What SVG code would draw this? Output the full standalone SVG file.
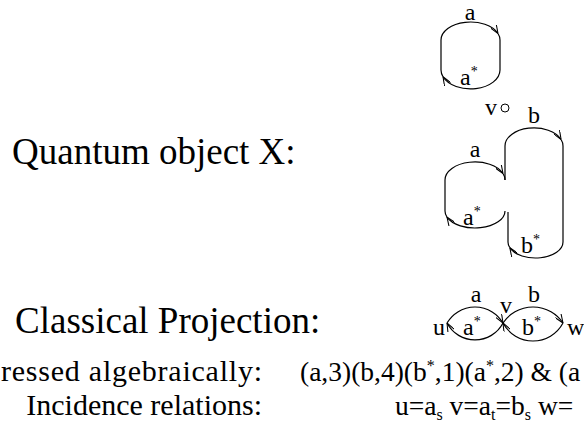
<svg xmlns="http://www.w3.org/2000/svg" width="584" height="426" viewBox="0 0 584 426">
<style>
text{font-family:Liberation Serif,Tinos,Times New Roman,Times,serif;fill:#000}
.big{font-size:37px}
.mid{font-size:30px}
.rt{font-size:27.5px}
.lbl{font-size:24px}
.sup{font-size:14px}
.sup2{font-size:16px}
.sub{font-size:16px}
.e{fill:none;stroke:#000;stroke-width:1.2}
.ea{fill:none;stroke:#000;stroke-width:1.2;marker-end:url(#arr)}
</style>
<defs>
<marker id="arr" viewBox="0 0 10 8" refX="10" refY="4" markerWidth="9" markerHeight="7" markerUnits="userSpaceOnUse" orient="auto">
<path d="M0,0 L10,4 L0,8" fill="none" stroke="#000" stroke-width="1.2"/>
</marker>
</defs>
<rect width="584" height="426" fill="#fff"/>
<g id="titles">
<text class="big" x="12" y="164">Quantum object X:</text>
<text class="big" x="15" y="333">Classical Projection:</text>
<text class="mid" x="1" y="381" textLength="261" lengthAdjust="spacing">ressed algebraically:</text>
<text class="mid" x="262" y="415" text-anchor="end">Incidence relations:</text>
<text class="rt" x="300" y="381">(a,3)(b,4)(b<tspan class="sup2" dy="-10">*</tspan><tspan dy="10">,1)(a</tspan><tspan class="sup2" dy="-10">*</tspan><tspan dy="10">,2) &amp; (a</tspan></text>
<text class="rt" x="395" y="415">u=a<tspan class="sub" dy="5">s</tspan><tspan dy="-5"> v=a</tspan><tspan class="sub" dy="5">t</tspan><tspan dy="-5">=b</tspan><tspan class="sub" dy="5">s</tspan><tspan dy="-5"> w=</tspan></text>
</g>
<g id="labels">
<text class="lbl" x="470" y="20" text-anchor="middle">a</text>
<text class="lbl" x="460" y="85">a<tspan class="sup" dy="-9">*</tspan></text>
<text class="lbl" x="485" y="115">v</text>
<circle cx="505" cy="108" r="4" fill="none" stroke="#000" stroke-width="1"/>
<text class="lbl" x="534" y="123" text-anchor="middle">b</text>
<text class="lbl" x="475" y="157" text-anchor="middle">a</text>
<text class="lbl" x="463" y="225">a<tspan class="sup" dy="-9">*</tspan></text>
<text class="lbl" x="521" y="253">b<tspan class="sup" dy="-9">*</tspan></text>
<text class="lbl" x="433" y="335">u</text>
<text class="lbl" x="476" y="302" text-anchor="middle">a</text>
<text class="lbl" x="534" y="302" text-anchor="middle">b</text>
<text class="lbl" x="500" y="313">v</text>
<text class="lbl" x="463" y="335">a<tspan class="sup" dy="-9">*</tspan></text>
<text class="lbl" x="522" y="335">b<tspan class="sup" dy="-9">*</tspan></text>
<text class="lbl" x="567" y="335">w</text>
</g>
<g id="connectors">
<path class="e" d="M441,40 V70 M500,40 V70"/>
<path class="ea" d="M441,40 A29.5,18 0 0 1 498,33.5"/>
<path class="e" d="M498,33.5 A29.5,18 0 0 1 500,40"/>
<path class="ea" d="M500,70 A29.5,19 0 0 1 443,76.8"/>
<path class="e" d="M443,76.8 A29.5,19 0 0 1 441,70"/>
<path class="e" d="M445,180 V211 M505,146 V180 M508,212 V242 M563,146 V242"/>
<path class="ea" d="M445,180 A30,18 0 0 1 503,173.5"/>
<path class="e" d="M503,173.5 A30,18 0 0 1 505,180"/>
<path class="ea" d="M505,211 A30,17 0 0 1 447,217.1"/>
<path class="e" d="M447,217.1 A30,17 0 0 1 445,211"/>
<path class="ea" d="M505,146 A29,18 0 0 1 561.1,139.5"/>
<path class="e" d="M561.1,139.5 A29,18 0 0 1 563,146"/>
<path class="ea" d="M563,242 A27.5,16 0 0 1 509.8,247.7"/>
<path class="e" d="M509.8,247.7 A27.5,16 0 0 1 508,242"/>
<path class="ea" d="M447,323 A32.5,32.5 0 0 1 503,323"/>
<path class="ea" d="M503,323 A31.6,31.6 0 0 1 447,323"/>
<path class="ea" d="M503,323 A36.1,36.1 0 0 1 563,323"/>
<path class="ea" d="M563,323 A34,34 0 0 1 503,323"/>
</g>
</svg>
